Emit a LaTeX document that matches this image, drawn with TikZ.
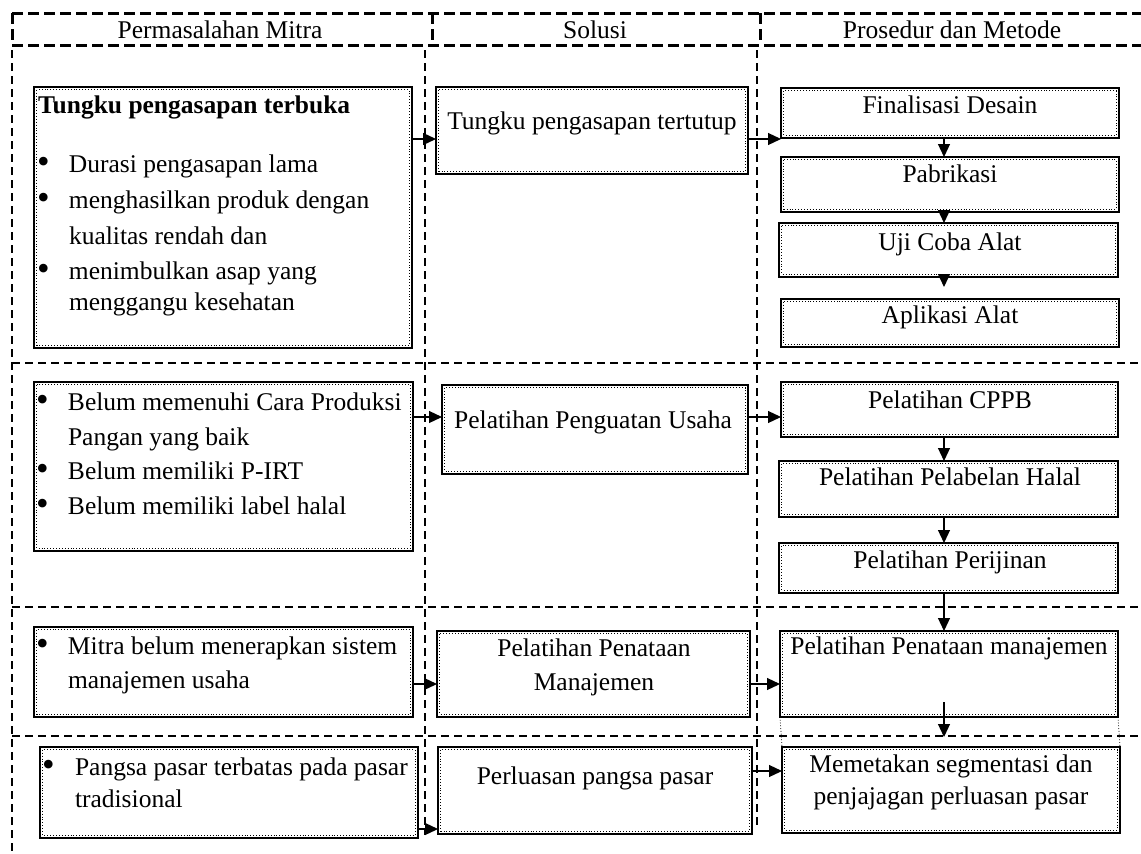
\documentclass[tikz,border=0pt]{standalone}
\usepackage{fontspec}
\setmainfont{Liberation Serif}
\usetikzlibrary{arrows.meta}
\newcommand\bx[5]{\node[box, minimum width={(#3-#1)*1pt}, minimum height={(#4-#2)*1pt}] (#5) at ({(#1+#3)/2},{(#2+#4)/2}) {};}
\newcommand\tl[4]{\node[txt,anchor=base west] (#1) at (#2,#3) {#4};}
\newcommand\tc[4]{\node[txt,anchor=base] (#1) at (#2,#3) {#4};}
\newcommand\bul[2]{\makebox[#1pt][l]{\raisebox{-1pt}{\fontsize{36}{36}\selectfont •}}#2}
\begin{document}
\begin{tikzpicture}[x=1pt,y=-1pt,
  box/.style={draw=black,line width=2pt,inner sep=0pt,outer sep=0pt,fill=white,
    path picture={\draw[line width=0.9pt,dotted] ([shift={(2.8pt,-2.8pt)}]path picture bounding box.north west) rectangle ([shift={(-2.8pt,2.8pt)}]path picture bounding box.south east);}},
  txt/.style={inner sep=0pt,outer sep=0pt,font=\fontsize{25.5}{34}\selectfont,text=black},
  hdash/.style={line width=3pt,dash pattern=on 11pt off 5pt},
  cdash/.style={line width=2pt,dash pattern=on 8pt off 5pt},
  arr/.style={line width=1.2pt,-{Triangle[length=13pt,width=12pt]}},
  thindot/.style={line width=0.8pt,dotted}]
\useasboundingbox (0,0) rectangle (1141,854);
\fill[white] (0,0) rectangle (1141,854);
% header
\draw[hdash] (12,13) -- (1141,13);
\draw[hdash] (12,45) -- (1141,45);
\draw[hdash] (12,13) -- (12,45);
\draw[hdash] (432,13) -- (432,45);
\draw[hdash] (760,13) -- (760,45);
\tc{h1}{220}{38}{Permasalahan Mitra}
\tc{h2}{595}{38}{Solusi}
\tc{h3}{952}{38}{Prosedur dan Metode}
% column and row separators
\draw[cdash] (12,50) -- (12,854);
\draw[cdash] (425,50) -- (425,835);
\draw[cdash] (757,50) -- (757,825);
\draw[cdash] (12,363) -- (1141,363);
\draw[cdash] (12,607) -- (1141,607);
\draw[cdash] (12,736) -- (1141,736);
\coordinate (ax) at (944,0);
% row 1
\bx{34}{87}{412}{348}{p1}
\tl{p1t}{38}{113}{\textbf{Tungku pengasapan terbuka}}
\tl{p1a}{37}{172}{\bul{32}{Durasi pengasapan lama}}
\tl{p1b}{37}{208}{\bul{32}{menghasilkan produk dengan}}
\tl{p1c}{69}{244}{kualitas rendah dan}
\tl{p1d}{37}{279}{\bul{32}{menimbulkan asap yang}}
\tl{p1e}{69}{310}{menggangu kesehatan}
\bx{436}{87}{748}{174}{s1}
\tc{s1t}{592}{129}{Tungku pengasapan tertutup}
\bx{781}{88}{1119}{138}{m1}
\tc{m1t}{950}{113}{Finalisasi Desain}
\bx{781}{157}{1119}{212}{m2}
\tc{m2t}{950}{182}{Pabrikasi}
\bx{779}{223}{1118}{277}{m3}
\tc{m3t}{950}{250}{Uji Coba Alat}
\bx{781}{299}{1119}{347}{m4}
\tc{m4t}{950}{323}{Aplikasi Alat}
\draw[arr] (p1.east |- 0,139) -- (s1.west |- 0,139);
\draw[arr] (s1.east |- 0,139) -- (m1.west |- 0,139);
\draw[arr] (m1.south -| ax) -- (m2.north -| ax);
\draw[arr] (m2.south -| ax) -- (m3.north -| ax);
\draw[arr,shorten >=12pt] (m3.south -| ax) -- (m4.north -| ax);
% row 2
\bx{34}{382}{413}{551}{p2}
\tl{p2a}{36}{410}{\bul{32}{Belum memenuhi Cara Produksi}}
\tl{p2b}{68}{445}{Pangan yang baik}
\tl{p2c}{36}{479}{\bul{32}{Belum memiliki P-IRT}}
\tl{p2d}{36}{514}{\bul{32}{Belum memiliki label halal}}
\bx{442}{385}{748}{474}{s2}
\tc{s2t}{593}{428}{Pelatihan Penguatan Usaha}
\bx{781}{382}{1118}{437}{m5}
\tc{m5t}{950}{408}{Pelatihan CPPB}
\bx{779}{461}{1118}{517}{m6}
\tc{m6t}{950}{485}{Pelatihan Pelabelan Halal}
\bx{779}{543}{1118}{593}{m7}
\tc{m7t}{950}{568}{Pelatihan Perijinan}
\draw[arr] (p2.east |- 0,417) -- (s2.west |- 0,417);
\draw[arr] (s2.east |- 0,417) -- (m5.west |- 0,417);
\draw[arr] (m5.south -| ax) -- (m6.north -| ax);
\draw[arr] (m6.south -| ax) -- (m7.north -| ax);
% row 3
\bx{34}{627}{413}{717}{p3}
\tl{p3a}{36}{654}{\bul{32}{Mitra belum menerapkan sistem}}
\tl{p3b}{68}{688}{manajemen usaha}
\bx{437}{631}{750}{717}{s3}
\tc{s3a}{594}{656}{Pelatihan Penataan}
\tc{s3b}{594}{690}{Manajemen}
\bx{780}{631}{1118}{717}{m8}
\tc{m8t}{949}{654}{Pelatihan Penataan manajemen}
\draw[arr] (m7.south -| ax) -- (m8.north -| ax);
\draw[arr] (p3.east |- 0,684) -- (s3.west |- 0,684);
\draw[arr] (s3.east |- 0,684) -- (m8.west |- 0,684);
% row 4
\bx{40}{747}{418}{838}{p4}
\tl{p4a}{42}{775}{\bul{33}{Pangsa pasar terbatas pada pasar}}
\tl{p4b}{75}{807}{tradisional}
\bx{438}{747}{752}{834}{s4}
\tc{s4t}{595}{784}{Perluasan pangsa pasar}
\bx{782}{747}{1120}{833}{m9}
\tc{m9a}{951}{772}{Memetakan segmentasi dan}
\tc{m9b}{951}{804}{penjajagan perluasan pasar}
\draw[thindot] (m8.south west) -- (m9.north west);
\draw[thindot] (m8.south east) -- (m9.north east);
\draw[arr,shorten <=-15pt,shorten >=10pt] (m8.south -| ax) -- (m9.north -| ax);
\draw[arr] (p4.east |- 0,829) -- (s4.west |- 0,829);
\draw[arr] (s4.east |- 0,771) -- (m9.west |- 0,771);
\end{tikzpicture}
\end{document}
